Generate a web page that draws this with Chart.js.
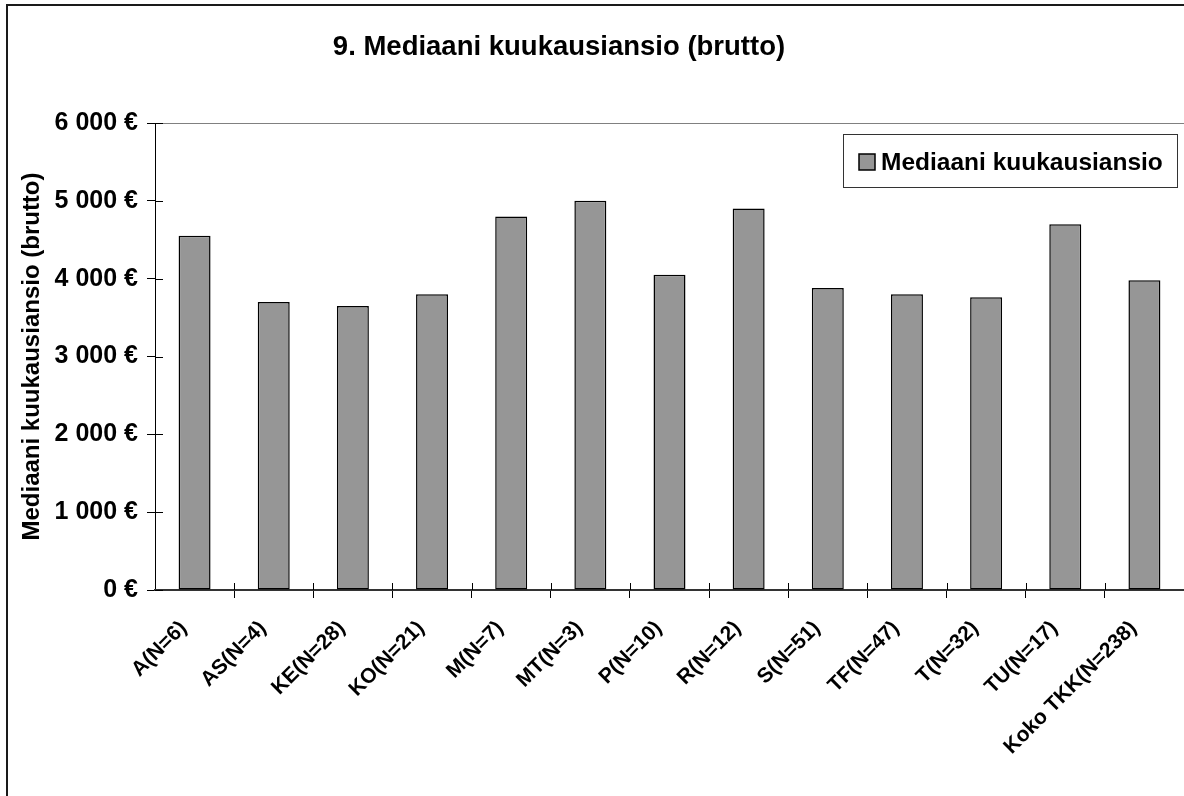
<!DOCTYPE html>
<html lang="fi">
<head>
<meta charset="utf-8">
<title>9. Mediaani kuukausiansio (brutto)</title>
<script src="https://cdn.jsdelivr.net/npm/chart.js@4.4.1/dist/chart.umd.min.js"></script>
<style>
  html, body { margin: 0; padding: 0; background: #fff; overflow: hidden; }
  #wrap { position: relative; width: 1184px; height: 796px; }
</style>
</head>
<body>
<div id="wrap"><canvas id="salaryChart"></canvas></div>
<script>
// Data
const groups = [
  "A(N=6)", "AS(N=4)", "KE(N=28)", "KO(N=21)", "M(N=7)", "MT(N=3)", "P(N=10)",
  "R(N=12)", "S(N=51)", "TF(N=47)", "T(N=32)", "TU(N=17)", "Koko TKK(N=238)",
]
const medianSalary = [4550, 3700, 3650, 3800, 4800, 5000, 4050, 4900, 3880, 3800, 3760, 4700, 3980]
const seriesName = "Mediaani kuukausiansio"
const chartTitle = "9. Mediaani kuukausiansio (brutto)"
const yTicks = [0, 1000, 2000, 3000, 4000, 5000, 6000]

const FONT = "'Liberation Sans', Arial, Helvetica, sans-serif"

Chart.defaults.font.family = FONT
Chart.defaults.color = "#000"

function euro(v) {
  return String(v).replace(/\B(?=(\d{3})+(?!\d))/g, " ") + " €"
}

// Outer chart frame (only left and top edges fall inside the picture)
const chartFrame = {
  id: "chartFrame",
  beforeDraw(chart) {
    const { ctx } = chart
    ctx.save()
    ctx.strokeStyle = "#1a1a1a"
    ctx.lineWidth = 2
    ctx.beginPath()
    ctx.moveTo(7, chart.height)
    ctx.lineTo(7, 5)
    ctx.lineTo(chart.width, 5)
    ctx.stroke()
    ctx.restore()
  },
}

// Excel style "cross" tick marks: the inner half of each tick
const crossTicks = {
  id: "crossTicks",
  afterDatasetsDraw(chart) {
    const { ctx, chartArea, scales } = chart
    ctx.save()
    ctx.strokeStyle = "#000"
    ctx.lineWidth = 1
    ctx.beginPath()
    scales.y.ticks.forEach((t) => {
      const y = Math.round(scales.y.getPixelForValue(t.value)) + 0.5
      ctx.moveTo(chartArea.left, y)
      ctx.lineTo(chartArea.left + 8, y)
    })
    for (let i = 1; i < groups.length; i++) {
      const x = Math.round((scales.x.getPixelForValue(i - 1) + scales.x.getPixelForValue(i)) / 2) + 0.5
      ctx.moveTo(x, chartArea.bottom)
      ctx.lineTo(x, chartArea.bottom - 7)
    }
    ctx.stroke()
    ctx.restore()
  },
}

// Title and legend box, placed like in the Excel original
const excelDecor = {
  id: "excelDecor",
  afterDraw(chart) {
    const { ctx } = chart
    const ds = chart.data.datasets[0]
    ctx.save()
    ctx.fillStyle = "#000"
    ctx.font = "bold 27.5px " + FONT
    ctx.textAlign = "center"
    ctx.textBaseline = "alphabetic"
    ctx.fillText(chartTitle, 559, 55)

    const x = 843, y = 134, w = 334, h = 53
    ctx.fillStyle = "#fff"
    ctx.fillRect(x, y, w, h)
    ctx.strokeStyle = "#333"
    ctx.lineWidth = 1
    ctx.strokeRect(x + 0.5, y + 0.5, w, h)
    ctx.fillStyle = ds.backgroundColor
    ctx.fillRect(859, 154, 16, 16)
    ctx.strokeStyle = "#000"
    ctx.lineWidth = 1.5
    ctx.strokeRect(859, 154, 16, 16)
    ctx.fillStyle = "#000"
    ctx.font = "bold 24.5px " + FONT
    ctx.textAlign = "left"
    ctx.fillText(ds.label, 881, 170)
    ctx.restore()
  },
}

document.addEventListener("DOMContentLoaded", () => {
  createSalaryChart()
})

function createSalaryChart() {
  const ctx = document.getElementById("salaryChart").getContext("2d")

  new Chart(ctx, {
    type: "bar",
    data: {
      labels: groups,
      datasets: [
        {
          label: seriesName,
          data: medianSalary,
          backgroundColor: "#969696",
          borderColor: "#000",
          borderWidth: 1.5,
          borderSkipped: false,
          barPercentage: 0.404,
          categoryPercentage: 1,
        },
      ],
    },
    options: {
      responsive: true,
      maintainAspectRatio: false,
      animation: false,
      layout: { padding: { left: 0, right: -1, top: 123, bottom: 0 } },
      plugins: {
        legend: { display: false },
        tooltip: { enabled: false },
        title: { display: false },
      },
      scales: {
        y: {
          min: 0,
          max: 6000,
          afterBuildTicks: (scale) => {
            scale.ticks = yTicks.map((v) => ({ value: v }))
          },
          afterFit: (scale) => {
            scale.width = 155
          },
          border: { color: "#000", width: 1 },
          grid: {
            color: (c) => (c.tick && c.tick.value === 6000 ? "#808080" : "rgba(0,0,0,0)"),
            tickColor: "#000",
            tickLength: 8,
            lineWidth: 1,
          },
          ticks: {
            padding: 9,
            font: { size: 25, weight: "bold" },
            callback: (v) => euro(v),
          },
          title: {
            display: true,
            text: "Mediaani kuukausiansio (brutto)",
            font: { size: 24, weight: "bold" },
            padding: { top: 18, bottom: 0 },
          },
        },
        x: {
          afterFit: (scale) => {
            scale.height = 206
          },
          border: { color: "#333", width: 2 },
          grid: {
            offset: true,
            drawOnChartArea: false,
            tickLength: 8,
            tickColor: (c) => (c.index === 0 || c.index === groups.length ? "rgba(0,0,0,0)" : "#000"),
          },
          ticks: {
            autoSkip: false,
            maxRotation: 45,
            minRotation: 45,
            padding: 18,
            labelOffset: -11,
            font: { size: 21, weight: "bold" },
          },
        },
      },
    },
    plugins: [chartFrame, crossTicks, excelDecor],
  })
}
</script>
</body>
</html>
